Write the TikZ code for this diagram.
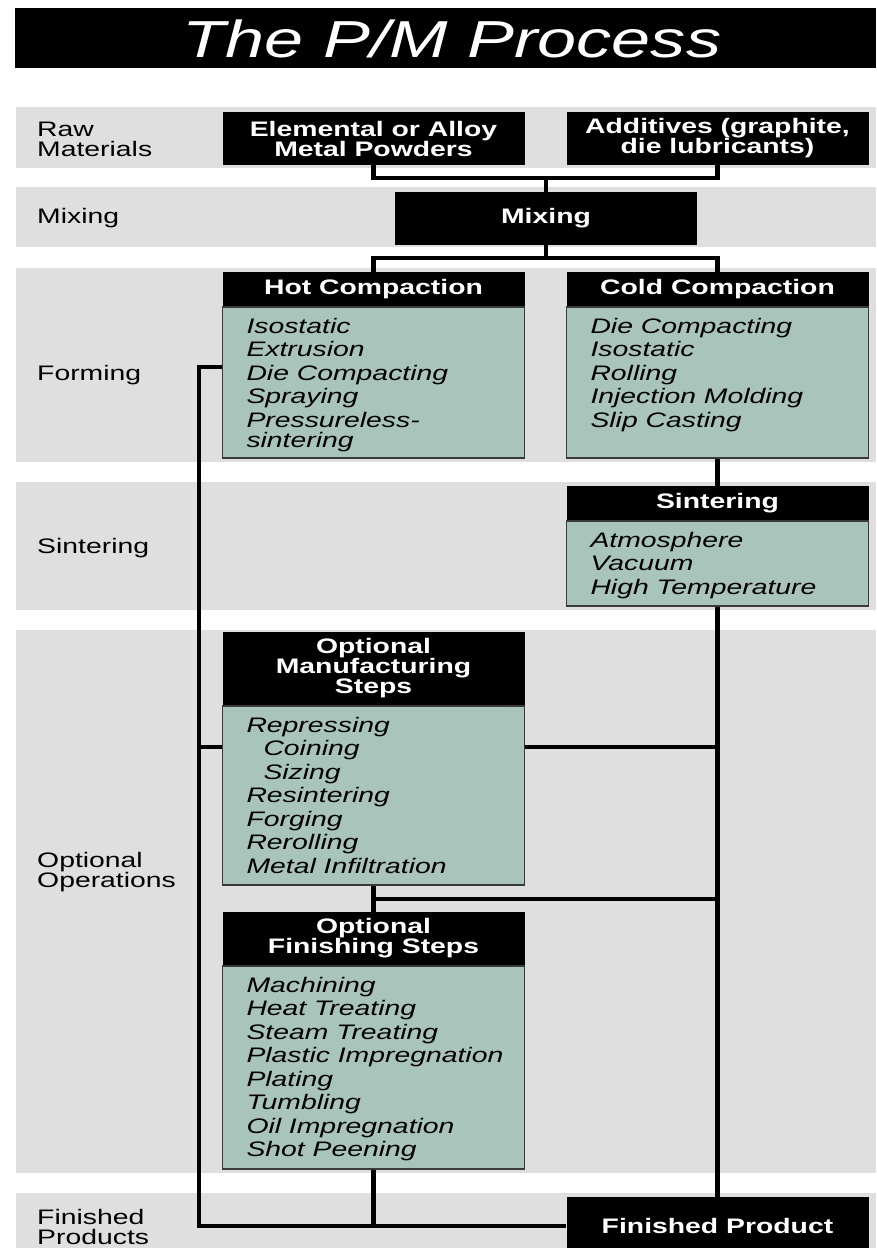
\documentclass[tikz,border=0pt]{standalone}
\usepackage{fontspec}
\setmainfont{Liberation Sans}[FakeStretch=1.35]
\usetikzlibrary{positioning,calc,backgrounds}
\definecolor{sage}{HTML}{A8C4BB}
\definecolor{band}{HTML}{DFDFDF}
\definecolor{edge}{HTML}{3A3A3A}
\tikzset{
  % kaestchen
  head/.style={fill=black,text=white,inner sep=0pt,minimum width=302pt,
               align=center,font=\bfseries\fontsize{21}{20}\selectfont},
  list/.style={draw=edge,fill=sage,line width=1.5pt,inner sep=0pt,
               font=\itshape\fontsize{21}{23.5}\selectfont},
  stage/.style={anchor=west,inner sep=0pt,align=left,
                font=\fontsize{21}{20}\selectfont},
  % verbindungen
  link/.style={draw=black,line width=4.5pt},
}
\newcommand{\steplist}[2]{\parbox[c][#1][t]{302pt}{\vspace*{10pt}\leftskip=24pt\strut#2}}

\begin{document}
\begin{tikzpicture}[x=1pt,y=-1pt]
  \useasboundingbox (0,0) rectangle (876,1248);
  \fill[black] (15,8) rectangle (876,68);
  \node[text=white,font=\itshape\fontsize{52}{56}\selectfont] (title) at (452,39) {The P/M Process};
  % stufen
  \node[stage] (lraw)  at (37,139)  {Raw\\Materials};
  \node[stage] (lmix)  at (37,218)  {Mixing};
  \node[stage] (lform) at (37,375)  {Forming};
  \node[stage] (lsint) at (37,548)  {Sintering};
  \node[stage] (lopt)  at (37,872)  {Optional\\Operations};
  \node[stage] (lfin)  at (37,1227) {Finished\\Products};
  % kaestchen
  \node[head,minimum height=53pt] (elem) at (373.5,138.5) {Elemental or Alloy\\Metal Powders};
  \node[head,minimum height=53pt] (addi) at (717.5,138.5) {Additives (graphite,\\die lubricants)};
  \node[head,minimum height=53pt] (mix)  at (546,218.5)   {Mixing};
  \node[head,minimum height=34pt] (hot)  at (373.5,289)   {Hot Compaction};
  \node[list,below=0pt of hot] (hotlist) {\steplist{151pt}{Isostatic\\Extrusion\\Die Compacting\\Spraying\\Pressureless-\\[-3.5pt]sintering}};
  \node[head,minimum height=34pt] (cold) at (717.5,289)   {Cold Compaction};
  \node[list,below=0pt of cold] (coldlist) {\steplist{151pt}{Die Compacting\\Isostatic\\Rolling\\Injection Molding\\Slip Casting}};
  \node[head,minimum height=34pt] (sint) at (717.5,503)   {Sintering};
  \node[list,below=0pt of sint] (sintlist) {\steplist{85pt}{Atmosphere\\Vacuum\\High Temperature}};
  \node[head,minimum height=73pt] (manu) at (373.5,668.5) {Optional\\Manufacturing\\Steps};
  \node[list,below=0pt of manu] (manulist) {\steplist{179pt}{Repressing\\\hspace*{17pt}Coining\\\hspace*{17pt}Sizing\\Resintering\\Forging\\Rerolling\\Metal Infiltration}};
  \node[head,minimum height=53pt] (fini) at (373.5,938.5) {Optional\\Finishing Steps};
  \node[list,below=0pt of fini] (finilist) {\steplist{203pt}{Machining\\Heat Treating\\Steam Treating\\Plastic Impregnation\\Plating\\Tumbling\\Oil Impregnation\\Shot Peening}};
  \node[head,minimum height=58pt] (prod) at (717.5,1226)  {Finished Product};
  \begin{scope}[on background layer]
  \fill[band] (16,107)  rectangle (876,168);
  \fill[band] (16,187)  rectangle (876,247);
  \fill[band] (16,268)  rectangle (876,462);
  \fill[band] (16,482)  rectangle (876,610);
  \fill[band] (16,630)  rectangle (876,1173);
  \fill[band] (16,1193) rectangle (876,1248);
  \coordinate (rawbus)  at (546,178);
  \coordinate (formbus) at (546,258);
  \draw[link] (elem.south) |- (rawbus) -| (addi.south);
  \draw[link] (rawbus) -- (mix.north);
  \draw[link] (mix.south) -- (formbus);
  \draw[link] (hot.north) |- (formbus) -| (cold.north);
  \draw[link] (coldlist.south) -- (sint.north);
  \draw[link] (sintlist.south) -- (prod.north);
  \draw[link] ([yshift=15.5pt]hotlist.west) -- ++(-23,0) |- (prod.west);
  \draw[link] ([yshift=48.5pt]manulist.west) -- ++(-23,0);
  \draw[link] ([yshift=48.5pt]manulist.east) coordinate (tap) -- (tap -| prod.north);
  \draw[link] (manulist.south) -- (fini.north);
  \draw[link] ($(manulist.south)!.5!(fini.north)$) coordinate (mbus) -- (mbus -| prod.north);
  \draw[link] (finilist.south) -- (finilist.south |- prod.west);
  \end{scope}
\end{tikzpicture}
\end{document}
